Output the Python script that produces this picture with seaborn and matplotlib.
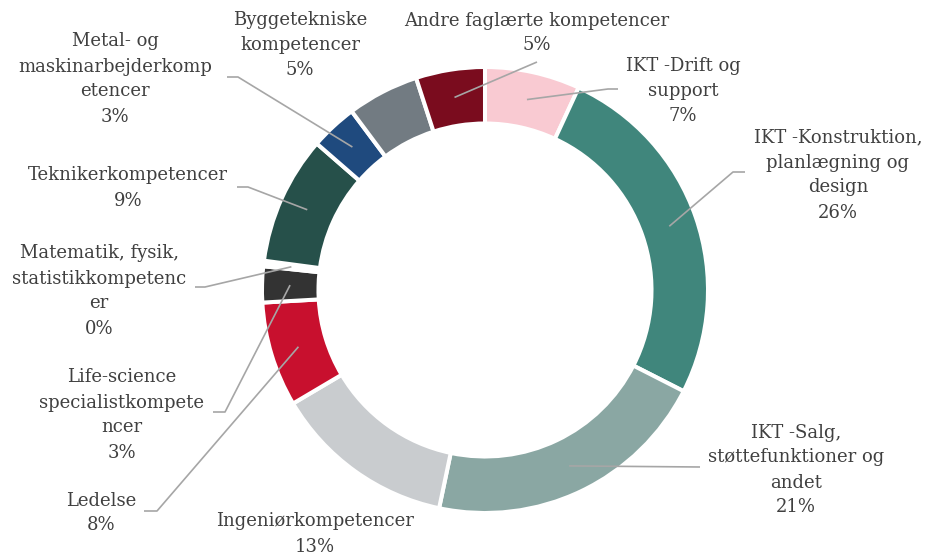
import numpy as np
import matplotlib
matplotlib.use("Agg")
import matplotlib.pyplot as plt
import seaborn as sns

# data (clockwise from 12 o'clock)
categories = ["IKT -Drift og\nsupport",
              "IKT -Konstruktion,\nplanlægning og\ndesign",
              "IKT -Salg,\nstøttefunktioner og\nandet",
              "Ingeniørkompetencer",
              "Ledelse",
              "Life-science\nspecialistkompete\nncer",
              "Matematik, fysik,\nstatistikkompetenc\ner",
              "Teknikerkompetencer",
              "Metal- og\nmaskinarbejderkomp\netencer",
              "Byggetekniske\nkompetencer",
              "Andre faglærte kompetencer"]
shares = [6.9, 25.6, 20.8, 13.2, 7.6, 2.6, 0.4, 9.3, 3.4, 5.2, 5.0]
colors = ["#F9CAD2", "#40867C", "#8AA7A3", "#C9CCCF", "#C8102E", "#333333",
          "#FFFFFF", "#26504A", "#1F4A7E", "#727B82", "#7A0C1E"]

# layout in pixel coords (image y downwards): label centre, leader bend points
label_pos = [(683, 91), (838, 175), (796, 470), (315, 534), (101, 513),
             (122, 415), (99, 291), (128, 188), (115, 79), (300, 45), (537, 33)]
leader_pts = [[(608, 89), (618, 89)],
              [(733, 172), (745, 172)],
              [(700, 467)],
              None,
              [(157, 511), (144, 511)],
              [(225, 412), (213, 412)],
              [(205, 287), (195, 287)],
              [(248, 187), (237, 187)],
              [(238, 77), (227, 77)],
              None,
              [(537, 62)]]

sns.set_theme(style="white")
plt.rcParams['font.family'] = ['DejaVu Serif']

W, H = 926, 559
fig = plt.figure(figsize=(W / 100, H / 100), dpi=100)
ax = fig.add_axes([0, 0, 1, 1])

cx, cy, R, ring = 485, 290, 223, 56.5
ax.pie(shares, colors=colors, center=(cx, cy), radius=R, startangle=270,
       counterclock=True,
       wedgeprops=dict(width=ring, edgecolor="white", linewidth=2.9))
ax.set_xlim(0, W)
ax.set_ylim(H, 0)
ax.set_aspect("equal")
ax.axis("off")

txt_col = "#404040"
line_col = "#A6A6A6"
cum = np.cumsum([0] + shares)
r_mid = 195
for i, name in enumerate(categories):
    pct = "%d%%" % int(round(shares[i]))
    x, y = label_pos[i]
    ax.text(x, y, name + "\n" + pct, ha="center", va="center",
            multialignment="center", fontsize=13, color=txt_col,
            linespacing=1.5)
    if leader_pts[i] is not None:
        phi = np.deg2rad((cum[i] + cum[i + 1]) / 2 * 3.6)
        sx, sy = cx + r_mid * np.sin(phi), cy - r_mid * np.cos(phi)
        pts = [(sx, sy)] + leader_pts[i]
        ax.plot([p[0] for p in pts], [p[1] for p in pts], color=line_col,
                lw=1.2, solid_capstyle="butt")

fig.savefig("out.png", dpi=100)
